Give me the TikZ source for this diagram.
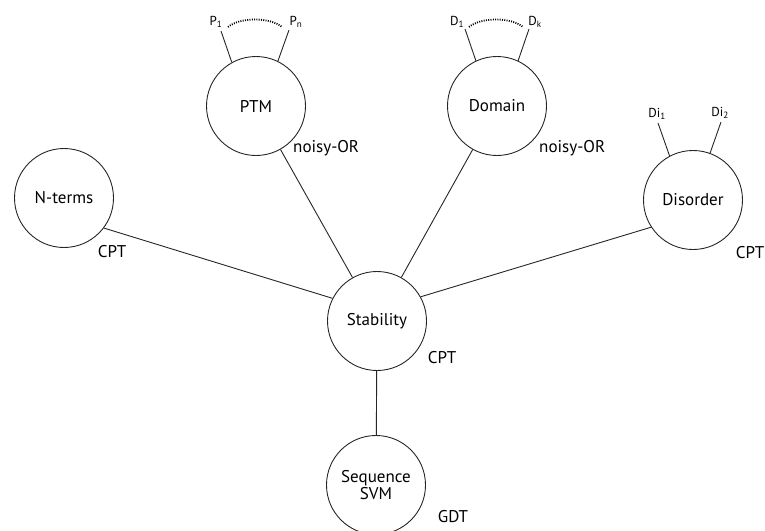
\documentclass[tikz,border=0pt]{standalone}
\usepackage{fontspec}
\setmainfont{PT Sans}
\begin{document}
\begin{tikzpicture}[x=1pt,y=-1pt,
  var/.style={circle,draw=black!85,line width=0.9pt,minimum size=99pt,inner sep=0pt,font=\fontsize{17}{19}\selectfont,align=center},
  lbl/.style={inner sep=0pt,font=\fontsize{17}{19}\selectfont},
  sm/.style={inner sep=0pt,font=\fontsize{13}{14}\selectfont},
  edge/.style={draw=black!85,line width=0.9pt},
  dots/.style={draw=black,line width=1.8pt,dash pattern=on 1pt off 1.3pt}]
\useasboundingbox (0,0) rectangle (765,530);
% nodes
\node[var] (nterm) at (64,198) {N-terms};
\node[var] (ptm) at (256,106) {PTM};
\node[var] (dom) at (497,106) {Domain};
\node[var] (dis) at (693,200) {Disorder};
\node[var] (stab) at (377,321) {Stability};
\node[var] (seq) at (376,485) {Sequence\\[-2pt]SVM};
% labels
\node[lbl,anchor=west] (l1) at (293,148) {noisy-OR};
\node[lbl,anchor=west] (l2) at (539,148) {noisy-OR};
\node[lbl] (l3) at (112,252) {CPT};
\node[lbl] (l4) at (442,358) {CPT};
\node[lbl,anchor=east] (l5) at (764.5,253) {CPT};
\node[lbl] (l6) at (453,517) {GDT};
% small labels
\node[sm] (p1) at (216,22) {P\textsubscript{1}};
\node[sm] (pn) at (296,22) {P\textsubscript{n}};
\node[sm] (d1) at (457,22) {D\textsubscript{1}};
\node[sm] (dk) at (535,22) {D\textsubscript{k}};
\node[sm] (di1) at (657,114) {Di\textsubscript{1}};
\node[sm] (di2) at (720,113) {Di\textsubscript{2}};
% stub ends
\coordinate (p1e) at (221,31);
\coordinate (pne) at (289,30);
\coordinate (d1e) at (465,29);
\coordinate (dke) at (529,29);
\coordinate (di1e) at (658,123);
\coordinate (di2e) at (721,122);
\coordinate (pa) at (228,27);
\coordinate (pb) at (282,27);
\coordinate (da) at (469,27);
\coordinate (db) at (523,27);
% stubs
\draw[edge] (ptm.119) -- (p1e);
\draw[edge] (ptm.64) -- (pne);
\draw[edge] (dom.115) -- (d1e);
\draw[edge] (dom.65) -- (dke);
\draw[edge] (dis.118) -- (di1e);
\draw[edge] (dis.70) -- (di2e);
% dotted arcs
\draw[dots] (pa) .. controls +(12,-10) and +(-12,-10) .. (pb);
\draw[dots] (da) .. controls +(12,-10) and +(-12,-10) .. (db);
% connectors
\draw[edge] (nterm.-37) -- (stab.153);
\draw[edge] (ptm) -- (stab);
\draw[edge] (dom) -- (stab);
\draw[edge] (dis.213) -- (stab.29);
\draw[edge] (stab) -- (seq);
\end{tikzpicture}
\end{document}
